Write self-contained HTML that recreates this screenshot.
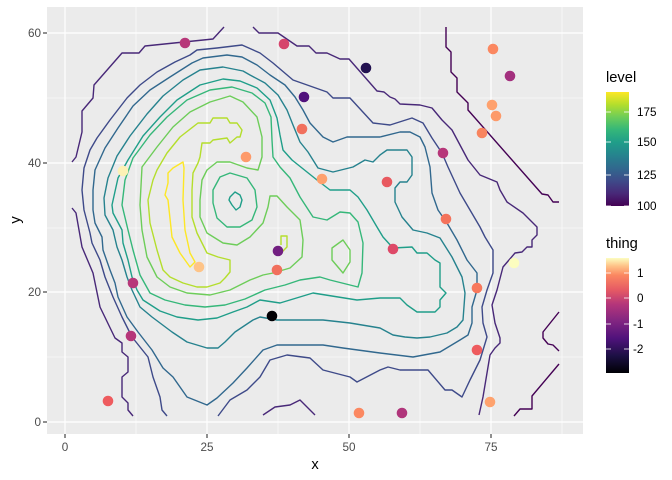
<!DOCTYPE html>
<html><head><meta charset="utf-8"><style>
html,body{margin:0;padding:0;background:#fff;}
svg{display:block;font-family:"Liberation Sans",Arial,sans-serif;}
</style></head><body>
<svg width="672" height="480" viewBox="0 0 672 480" xmlns="http://www.w3.org/2000/svg">
<defs>
<linearGradient id="vir" x1="0" y1="1" x2="0" y2="0">
<stop offset="0" stop-color="#440154"/><stop offset="0.11" stop-color="#482878"/><stop offset="0.22" stop-color="#3E4A89"/><stop offset="0.33" stop-color="#31688E"/><stop offset="0.44" stop-color="#26828E"/><stop offset="0.56" stop-color="#1F9E89"/><stop offset="0.67" stop-color="#35B779"/><stop offset="0.78" stop-color="#6DCD59"/><stop offset="0.89" stop-color="#B4DE2C"/><stop offset="1" stop-color="#FDE725"/>
</linearGradient>
<linearGradient id="mag" x1="0" y1="1" x2="0" y2="0">
<stop offset="0" stop-color="#000004"/><stop offset="0.15" stop-color="#1c1044"/><stop offset="0.3" stop-color="#4f127b"/><stop offset="0.45" stop-color="#812581"/><stop offset="0.6" stop-color="#b5367a"/><stop offset="0.72" stop-color="#e55964"/><stop offset="0.85" stop-color="#fb8761"/><stop offset="0.93" stop-color="#fec287"/><stop offset="1" stop-color="#fcfdbf"/>
</linearGradient>
</defs>
<rect x="47" y="7" width="536" height="427" fill="#ebebeb"/>
<g stroke="#fff" stroke-width="0.6">
<line x1="136" y1="7" x2="136" y2="434"/><line x1="278" y1="7" x2="278" y2="434"/><line x1="420" y1="7" x2="420" y2="434"/><line x1="562" y1="7" x2="562" y2="434"/>
<line x1="47" y1="357" x2="583" y2="357"/><line x1="47" y1="228" x2="583" y2="228"/><line x1="47" y1="98" x2="583" y2="98"/>
</g>
<g stroke="#fff" stroke-width="1.2">
<line x1="65" y1="7" x2="65" y2="434"/><line x1="207" y1="7" x2="207" y2="434"/><line x1="349" y1="7" x2="349" y2="434"/><line x1="491" y1="7" x2="491" y2="434"/>
<line x1="47" y1="422" x2="583" y2="422"/><line x1="47" y1="292" x2="583" y2="292"/><line x1="47" y1="163" x2="583" y2="163"/><line x1="47" y1="33" x2="583" y2="33"/>
</g>
<g fill="none" stroke-width="1.4" stroke-linejoin="round">
<g stroke="#440154">
<polyline points="446,27 446,47 451,52 451,72 457,78 457,92 468,103 468,110 542,194 548,195 553,202 559,202"/>
<polyline points="559,312 543,332 543,338 548,344 553,345 559,351"/>
<polyline points="559,364 532,396 532,409 520,409 514,416"/>
</g>
<g stroke="#482878">
<polyline points="72,162 76,157 82,132 82,111 93,98 94,85 122,53 139,53 145,46 213,39 224,27"/>
<polyline points="253,27 259,33 278,33 297,46 309,46 316,53 327,53 340,59 349,59 377,91 384,92 390,97 395,99 400,104 420,105 432,108 442,120 452,130 460,145 468,160 480,175 497,182 500,190 507,202 523,213 537,227 537,235 532,240 532,247 527,247 522,252 515,253 503,267 497,290 492,305 495,323 500,338 500,343 495,348 490,355 487,373 483,397 479,415"/>
<polyline points="72,208 76,213 82,247 93,273 100,307 115,338 122,343 122,352 128,357 128,372 122,377 122,397 128,403 128,410 133,416"/>
<polyline points="263,415 275,407 290,405 300,400 315,415"/>
</g>
<polyline stroke="#3E4A89" points="167,416 162,410 160,397 153,377 148,357 132,337 122,317 113,297 105,277 100,260 92,243 90,233 84,210 82,190 84,168 90,150 97,138 110,120 127,98 140,85 157,72 175,62 190,55 197,50 217,48 242,45 260,53 273,63 293,80 310,86 327,92 333,98 350,98 373,123 390,125 412,118 423,123 432,138 442,153 448,167 460,193 470,210 480,227 485,237 493,250 493,273 487,290 482,307 483,323 487,337 480,360 470,380 462,397 452,390 445,390 428,370 400,370 388,367 380,370 357,382 350,377 323,370 310,358 287,355 270,360 260,377 247,390 230,400 218,416"/>
<polygon stroke="#31688E" points="95,170 93,190 93,210 95,223 102,237 103,250 110,270 115,283 118,297 127,317 138,332 152,350 163,368 173,377 187,397 207,405 217,398 233,383 247,368 263,350 277,345 293,345 323,345 343,348 380,353 413,357 440,352 460,340 468,335 472,323 472,307 477,290 477,273 467,260 457,240 447,223 438,210 432,193 430,167 425,147 420,137 410,132 400,132 380,137 347,137 333,142 323,137 310,123 303,110 295,97 285,85 270,75 257,65 242,57 227,55 203,58 192,63 170,77 150,90 133,106 118,128 105,148"/>
<polygon stroke="#26828E" points="108,178 104,198 105,215 113,230 117,247 122,260 127,277 132,290 140,307 152,317 160,323 172,332 187,342 207,348 218,348 225,342 235,332 253,320 260,317 277,320 297,320 323,320 350,323 380,328 393,335 405,337 417,338 430,337 447,333 457,327 463,320 465,293 462,277 452,257 440,238 427,233 413,230 402,217 395,202 395,188 400,182 407,182 412,175 412,157 407,150 387,150 380,155 373,162 365,160 353,167 333,172 318,168 308,152 300,142 293,125 287,110 278,95 265,83 250,75 243,71 223,67 200,70 183,80 163,96 147,114 130,136 117,156"/>
<polygon stroke="#1F9E89" points="112,205 118,178 128,160 143,136 160,117 177,100 200,85 223,79 240,81 257,88 270,100 277,118 280,135 283,150 292,160 302,168 317,180 330,190 350,190 358,197 367,210 377,227 383,237 393,248 412,247 417,253 427,253 435,260 440,263 440,287 446,293 440,300 440,307 435,312 417,312 407,305 400,298 380,298 357,300 313,293 280,303 260,300 247,307 233,312 217,318 198,320 177,317 160,311 143,300 137,290 132,277 128,260 123,243 122,230 113,213"/>
<polygon stroke="#35B779" points="122,205 125,180 133,158 150,135 167,117 187,100 210,90 232,87 252,93 265,103 271,117 272,140 273,157 280,167 290,178 300,197 313,217 327,220 340,212 350,213 358,222 363,243 362,273 358,287 330,280 320,277 300,280 285,285 265,290 245,299 225,305 205,307 185,305 165,300 150,293 140,275 133,250 128,230"/>
<polygon stroke="#6DCD59" points="140,205 142,167 157,147 173,127 190,112 210,102 230,96 243,102 257,117 262,137 262,157 258,170 247,168 230,162 217,162 207,170 202,180 200,200 200,217 207,233 223,243 237,245 250,237 263,223 268,207 270,196 277,196 287,207 300,220 303,240 302,257 290,268 273,273 263,275 250,280 230,290 210,295 187,293 170,287 157,277 147,257 142,230"/>
<polygon stroke="#6DCD59" points="332,248 343,240 350,250 350,262 343,273 332,260"/>
<polygon stroke="#B4DE2C" points="180,137 198,123 210,123 213,118 227,118 230,123 237,123 242,130 240,137 237,137 230,143 227,138 213,140 210,143 202,143 200,157 198,163 193,173 192,190 192,217 197,233 207,253 218,257 230,260 230,272 225,278 220,283 207,287 197,287 183,283 170,277 163,270 157,250 150,223 148,200 153,180 157,170 167,153"/>
<polyline stroke="#B4DE2C" points="281,245 281,236 287,236 287,247 281,253"/>
<polygon stroke="#FDE725" points="173,168 183,162 184,168 183,200 185,230 190,253 195,262 190,267 180,253 172,237 168,200 165,195 168,183 168,173"/>
<polygon stroke="#35B779" points="213,190 220,177 230,173 247,178 255,190 257,207 252,220 240,227 227,227 217,218 213,203"/>
<polygon stroke="#1F9E89" points="230,197 235,192 240,195 242,200 240,207 236,210 232,205 229,200"/>
</g>
<g>
<circle cx="185" cy="43" r="5.3" fill="#b73779"/>
<circle cx="284" cy="44" r="5.3" fill="#d6456c"/>
<circle cx="366" cy="68" r="5.3" fill="#221150"/>
<circle cx="304" cy="97" r="5.3" fill="#51127c"/>
<circle cx="302" cy="129" r="5.3" fill="#f1705d"/>
<circle cx="246" cy="157" r="5.3" fill="#fd9a6a"/>
<circle cx="322" cy="179" r="5.3" fill="#fea16e"/>
<circle cx="387" cy="182" r="5.3" fill="#e8595f"/>
<circle cx="443" cy="153" r="5.3" fill="#b63679"/>
<circle cx="446" cy="219" r="5.3" fill="#f4735c"/>
<circle cx="493" cy="49" r="5.3" fill="#fb8861"/>
<circle cx="510" cy="76" r="5.3" fill="#a3307e"/>
<circle cx="492" cy="105" r="5.3" fill="#fea16e"/>
<circle cx="496" cy="116" r="5.3" fill="#fd9a6a"/>
<circle cx="482" cy="133" r="5.3" fill="#f8845e"/>
<circle cx="123" cy="171" r="5.3" fill="#fcf1b5"/>
<circle cx="278" cy="251" r="5.3" fill="#721f81"/>
<circle cx="277" cy="270" r="5.3" fill="#f1705d"/>
<circle cx="199" cy="267" r="5.3" fill="#fec488"/>
<circle cx="133" cy="283" r="5.3" fill="#b73779"/>
<circle cx="393" cy="249" r="5.3" fill="#de4968"/>
<circle cx="477" cy="288" r="5.3" fill="#f8785c"/>
<circle cx="514" cy="263" r="5.3" fill="#fcfdbf"/>
<circle cx="272" cy="316" r="5.3" fill="#000004"/>
<circle cx="131" cy="336" r="5.3" fill="#b63679"/>
<circle cx="108" cy="401" r="5.3" fill="#ee5b5e"/>
<circle cx="359" cy="413" r="5.3" fill="#fb8861"/>
<circle cx="402" cy="413" r="5.3" fill="#b0357b"/>
<circle cx="477" cy="350" r="5.3" fill="#ee5b5e"/>
<circle cx="490" cy="402" r="5.3" fill="#fea26e"/>
</g>
<g stroke="#333" stroke-width="1.1">
<line x1="65" y1="434" x2="65" y2="438"/><line x1="207" y1="434" x2="207" y2="438"/><line x1="349" y1="434" x2="349" y2="438"/><line x1="491" y1="434" x2="491" y2="438"/>
<line x1="43" y1="422" x2="47" y2="422"/><line x1="43" y1="292" x2="47" y2="292"/><line x1="43" y1="163" x2="47" y2="163"/><line x1="43" y1="33" x2="47" y2="33"/>
</g>
<g fill="#4d4d4d" font-size="11.7">
<text x="65" y="451" text-anchor="middle">0</text><text x="207" y="451" text-anchor="middle">25</text><text x="349" y="451" text-anchor="middle">50</text><text x="491" y="451" text-anchor="middle">75</text>
<text x="41" y="426" text-anchor="end">0</text><text x="41" y="296" text-anchor="end">20</text><text x="41" y="167" text-anchor="end">40</text><text x="41" y="37" text-anchor="end">60</text>
</g>
<text x="315" y="469" font-size="14.7" text-anchor="middle" fill="#000">x</text>
<text x="20" y="220" font-size="14.7" text-anchor="middle" fill="#000" transform="rotate(-90 20 220)">y</text>
<text x="606" y="82" font-size="14.7" fill="#000">level</text>
<rect x="606" y="92" width="23" height="114" fill="url(#vir)"/>
<g stroke="#fff" stroke-width="0.8">
<line x1="606" y1="112" x2="611" y2="112"/><line x1="624" y1="112" x2="629" y2="112"/>
<line x1="606" y1="142" x2="611" y2="142"/><line x1="624" y1="142" x2="629" y2="142"/>
<line x1="606" y1="175" x2="611" y2="175"/><line x1="624" y1="175" x2="629" y2="175"/>
<line x1="606" y1="206" x2="611" y2="206"/><line x1="624" y1="206" x2="629" y2="206"/>
</g>
<g fill="#000" font-size="11.7">
<text x="637" y="116">175</text><text x="637" y="146">150</text><text x="637" y="179">125</text><text x="637" y="210">100</text>
</g>
<text x="606" y="248" font-size="14.7" fill="#000">thing</text>
<rect x="606" y="258" width="23" height="115" fill="url(#mag)"/>
<g stroke="#fff" stroke-width="0.8">
<line x1="606" y1="273" x2="611" y2="273"/><line x1="624" y1="273" x2="629" y2="273"/>
<line x1="606" y1="298" x2="611" y2="298"/><line x1="624" y1="298" x2="629" y2="298"/>
<line x1="606" y1="324" x2="611" y2="324"/><line x1="624" y1="324" x2="629" y2="324"/>
<line x1="606" y1="349" x2="611" y2="349"/><line x1="624" y1="349" x2="629" y2="349"/>
</g>
<g fill="#000" font-size="11.7">
<text x="637" y="277">1</text><text x="637" y="302">0</text><text x="633" y="328">-1</text><text x="633" y="353">-2</text>
</g>
</svg>
</body></html>
